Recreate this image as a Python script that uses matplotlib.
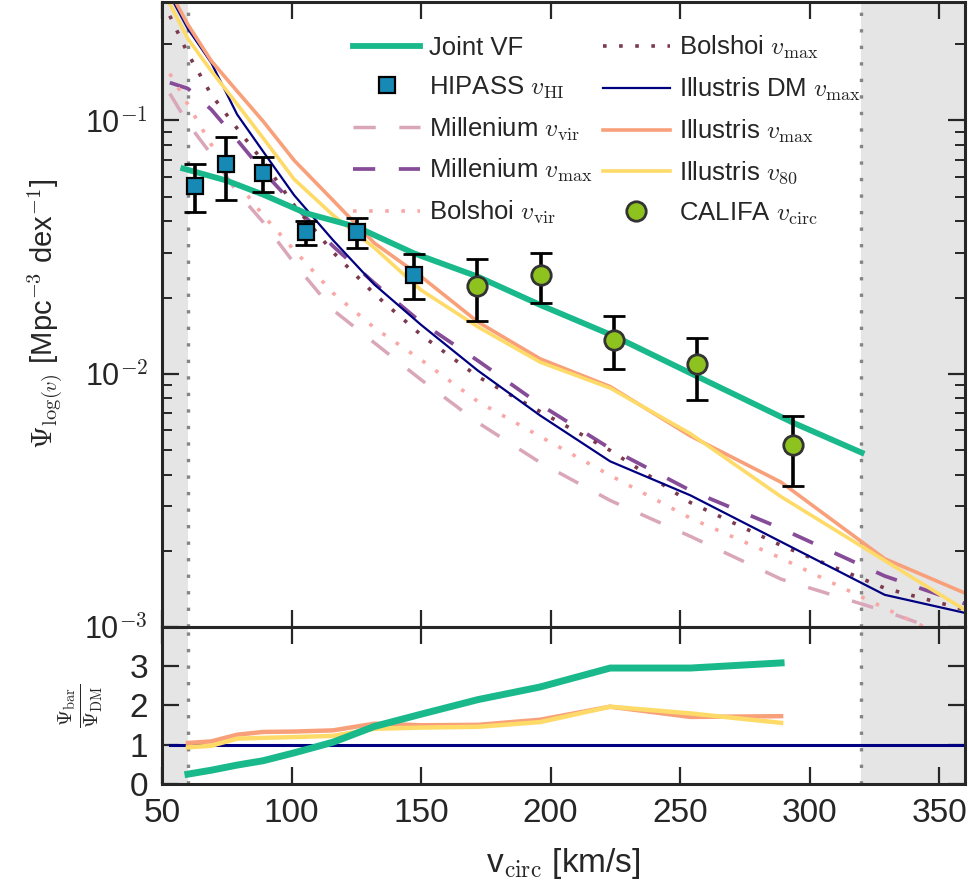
import numpy as np
import matplotlib
matplotlib.use('Agg')
import matplotlib.pyplot as plt
from matplotlib import font_manager
from matplotlib.ticker import FixedLocator, FuncFormatter, LogLocator, NullFormatter

# velocity bins of the simulation curves [km/s]
v_sim = [53, 60, 69, 79, 89, 101, 116, 132, 150, 172, 196, 223, 254, 289, 329, 375]

mill_vir = [0.1277, 0.0973, 0.0735, 0.0521, 0.0397, 0.02735, 0.01786, 0.01324, 0.00947,
            0.00641, 0.00446, 0.00316, 0.00228, 0.001545, 0.001156, 0.00079]
mill_max = [0.1411, 0.1337, 0.1105, 0.0838, 0.0630, 0.0464, 0.0319, 0.0228, 0.01596,
            0.01125, 0.00755, 0.00507, 0.00346, 0.00245, 0.00159, 0.001095]
bols_vir = [0.1531, 0.1156, 0.0804, 0.0570, 0.0423, 0.0308, 0.02084, 0.01518, 0.01135,
            0.00776, 0.00565, 0.00397, 0.00269, 0.00187, 0.001188, 0.000709]
bols_max = [0.259, 0.1836, 0.1266, 0.0930, 0.0690, 0.0463, 0.0302, 0.02065, 0.01424,
            0.00973, 0.00709, 0.00498, 0.00310, 0.00210, 0.001424, 0.001065]
ill_dm = [0.312, 0.230, 0.169, 0.1056, 0.0755, 0.0507, 0.0337, 0.0225, 0.0156,
          0.01028, 0.00684, 0.00451, 0.00331, 0.00217, 0.00134, 0.00105]
ill_max = [0.324, 0.239, 0.172, 0.1305, 0.0994, 0.0696, 0.0484, 0.0328, 0.0242,
           0.0160, 0.01145, 0.0089, 0.00568, 0.00373, 0.00186, 0.00117]
ill_80 = [0.289, 0.210, 0.157, 0.116, 0.0853, 0.0586, 0.0423, 0.0314, 0.0214,
          0.0153, 0.01111, 0.00878, 0.00580, 0.00327, 0.00183, 0.00094]

# joint velocity function
v_joint = [58.2, 74.7, 88.8, 105.4, 125.1, 147.2, 171.8, 196.5, 224.7, 256.6, 293.6, 320.1]
psi_joint = [0.0646, 0.0580, 0.0511, 0.0431, 0.0380, 0.0299, 0.0242, 0.0186, 0.01405,
             0.00976, 0.00641, 0.00488]

# HIPASS
v_hi = [62.7, 74.7, 88.9, 105.5, 125.2, 147.1]
psi_hi = [0.0551, 0.0675, 0.0618, 0.0362, 0.0362, 0.0245]
psi_hi_lo = [0.0434, 0.0484, 0.0521, 0.0322, 0.0313, 0.0197]
psi_hi_hi = [0.0671, 0.0857, 0.0715, 0.0400, 0.0411, 0.0297]

# CALIFA
v_ca = [171.7, 196.4, 224.6, 256.7, 293.6]
psi_ca = [0.0223, 0.0245, 0.0136, 0.0109, 0.00521]
psi_ca_lo = [0.0162, 0.0190, 0.0104, 0.0079, 0.00362]
psi_ca_hi = [0.0284, 0.0300, 0.0169, 0.0138, 0.00679]

# ratios to Illustris DM
v_ratio = [60, 69, 79, 89, 101, 116, 132, 150, 172, 196, 223, 254, 289]
ratio_joint = [0.25, 0.35, 0.48, 0.59, 0.79, 1.06, 1.46, 1.77, 2.14, 2.46, 2.94, 2.94, 3.07]
ratio_max = [1.04, 1.08, 1.25, 1.32, 1.33, 1.36, 1.53, 1.49, 1.50, 1.63, 1.96, 1.70, 1.72]
ratio_80 = [0.93, 0.97, 1.15, 1.17, 1.19, 1.22, 1.40, 1.43, 1.45, 1.57, 1.96, 1.79, 1.55]
ratio_dm = [1] * len(v_sim)

v_lo, v_hi_cut = 60, 320

names = {f.name for f in font_manager.fontManager.ttflist}
narrow = 'Liberation Sans Narrow' if 'Liberation Sans Narrow' in names else 'Liberation Sans'

plt.rcParams['font.family'] = ['Liberation Sans', 'DejaVu Sans']
plt.rcParams['mathtext.fontset'] = 'cm'
plt.rcParams['lines.scale_dashes'] = False
plt.rcParams['axes.linewidth'] = 2.2
plt.rcParams['axes.edgecolor'] = '#262626'

fig = plt.figure(figsize=(9.68, 8.89), dpi=100)
ax = fig.add_axes([0.1674, 0.2947, 0.8295, 0.7036])
ax2 = fig.add_axes([0.1674, 0.1181, 0.8295, 0.1766], sharex=ax)

for a in (ax, ax2):
    a.axvspan(50, v_lo, color='#e5e5e5', lw=0, zorder=0)
    a.axvspan(v_hi_cut, 400, color='#e5e5e5', lw=0, zorder=0)
    a.axvline(v_lo, color='#858585', lw=2.4, dashes=(2.4, 9.5), zorder=1)
    a.axvline(v_hi_cut, color='#858585', lw=2.4, dashes=(2.4, 9.5), zorder=1)

ax.plot(v_sim, mill_vir, color='#d9a7b9', lw=2.5, dashes=(16, 17), label=r'Millenium $v_{\rm vir}$')
ax.plot(v_sim, mill_max, color='#874c98', lw=2.7, dashes=(16, 17), label=r'Millenium $v_{\rm max}$')
ax.plot(v_sim, bols_vir, color='#f9a8a6', lw=2.6, dashes=(2.6, 9), label=r'Bolshoi $v_{\rm vir}$')
ax.plot(v_sim, bols_max, color='#7b3a4e', lw=2.6, dashes=(2.6, 9), label=r'Bolshoi $v_{\rm max}$')
ax.plot(v_sim, ill_dm, color='#000080', lw=1.6, label=r'Illustris DM $v_{\rm max}$')
ax.plot(v_sim, ill_max, color='#f8a07a', lw=2.6, label=r'Illustris $v_{\rm max}$')
ax.plot(v_sim, ill_80, color='#fedb68', lw=2.6, label=r'Illustris $v_{80}$')
ax.plot(v_joint, psi_joint, color='#1ab98c', lw=4.2, label='Joint VF', zorder=3)

hi_err = [np.array(psi_hi) - np.array(psi_hi_lo), np.array(psi_hi_hi) - np.array(psi_hi)]
ax.errorbar(v_hi, psi_hi, yerr=hi_err, fmt='none', ecolor='k', elinewidth=2.6,
            capsize=8, capthick=2, zorder=4)
ax.plot(v_hi, psi_hi, 's', ms=12, mfc='#168ab5', mec='k', mew=1.6,
        label=r'HIPASS $v_{\rm HI}$', zorder=5)

ca_err = [np.array(psi_ca) - np.array(psi_ca_lo), np.array(psi_ca_hi) - np.array(psi_ca)]
ax.errorbar(v_ca, psi_ca, yerr=ca_err, fmt='none', ecolor='k', elinewidth=2.6,
            capsize=8, capthick=2, zorder=4)
ax.plot(v_ca, psi_ca, 'o', ms=14, mfc='#8dc21f', mec='#333333', mew=2,
        label=r'CALIFA $v_{\rm circ}$', zorder=5)

ax.set_yscale('log')
ax.set_xlim(50, 360)
ax.set_ylim(1e-3, 0.295)

ax.yaxis.set_major_locator(FixedLocator([1e-3, 1e-2, 1e-1]))
ax.yaxis.set_major_formatter(FuncFormatter(
    lambda y, pos: '10$^{\\mathsf{%d}}$' % int(round(np.log10(y)))))
ax.yaxis.set_minor_locator(LogLocator(base=10, subs=np.arange(2, 10)))
ax.yaxis.set_minor_formatter(NullFormatter())
ax.tick_params(axis='x', labelbottom=False)
ax.tick_params(which='major', direction='in', length=12, width=1.6, top=True, right=True,
               labelsize=22, colors='#262626', pad=10)
ax.tick_params(which='minor', direction='in', length=7, width=1.4, right=True, colors='#262626')
ax.set_ylabel(r'$\Psi_{\log(v)}$ [Mpc$^{\mathsf{-3}}$ dex$^{\mathsf{-1}}$]', fontsize=21,
              color='#262626', labelpad=14)

order = ['Joint VF', r'HIPASS $v_{\rm HI}$', r'Millenium $v_{\rm vir}$', r'Millenium $v_{\rm max}$',
         r'Bolshoi $v_{\rm vir}$', r'Bolshoi $v_{\rm max}$', r'Illustris DM $v_{\rm max}$',
         r'Illustris $v_{\rm max}$', r'Illustris $v_{80}$', r'CALIFA $v_{\rm circ}$']
handles, labels = ax.get_legend_handles_labels()
lookup = dict(zip(labels, handles))
leg = ax.legend([lookup[k] for k in order], order, ncol=2, loc='upper left',
                bbox_to_anchor=(0.238, 0.948), frameon=False, fontsize=18.5, numpoints=1,
                handlelength=2.6, handletextpad=0.35, labelspacing=0.56, columnspacing=0.4,
                borderpad=0, borderaxespad=0)
for t in leg.get_texts():
    t.set_color('#262626')

ax2.plot(v_sim, ratio_dm, color='#000080', lw=2.2)
ax2.plot(v_ratio, ratio_max, color='#f8a07a', lw=3.2)
ax2.plot(v_ratio, ratio_80, color='#fedb68', lw=3.2)
ax2.plot(v_ratio, ratio_joint, color='#1ab98c', lw=5)
ax2.set_ylim(0, 3.98)
ax2.set_yticks([0, 1, 2, 3])
ax2.set_xticks([50, 100, 150, 200, 250, 300, 350])
ax2.set_xlim(50, 360)
ax2.tick_params(direction='in', length=12, width=1.6, top=True, right=True,
                labelsize=24, colors='#262626', pad=10)
for lab in ax2.get_xticklabels() + ax2.get_yticklabels():
    lab.set_family(narrow)
ax2.set_ylabel(r'$\frac{\Psi_{\rm bar}}{\Psi_{\rm DM}}$', fontsize=21, color='#262626', labelpad=18)
ax2.set_xlabel(r'v$_{\rm circ}$ [km/s]', fontsize=24, color='#262626', family=narrow, labelpad=12)

fig.savefig('out.png', dpi=100)
